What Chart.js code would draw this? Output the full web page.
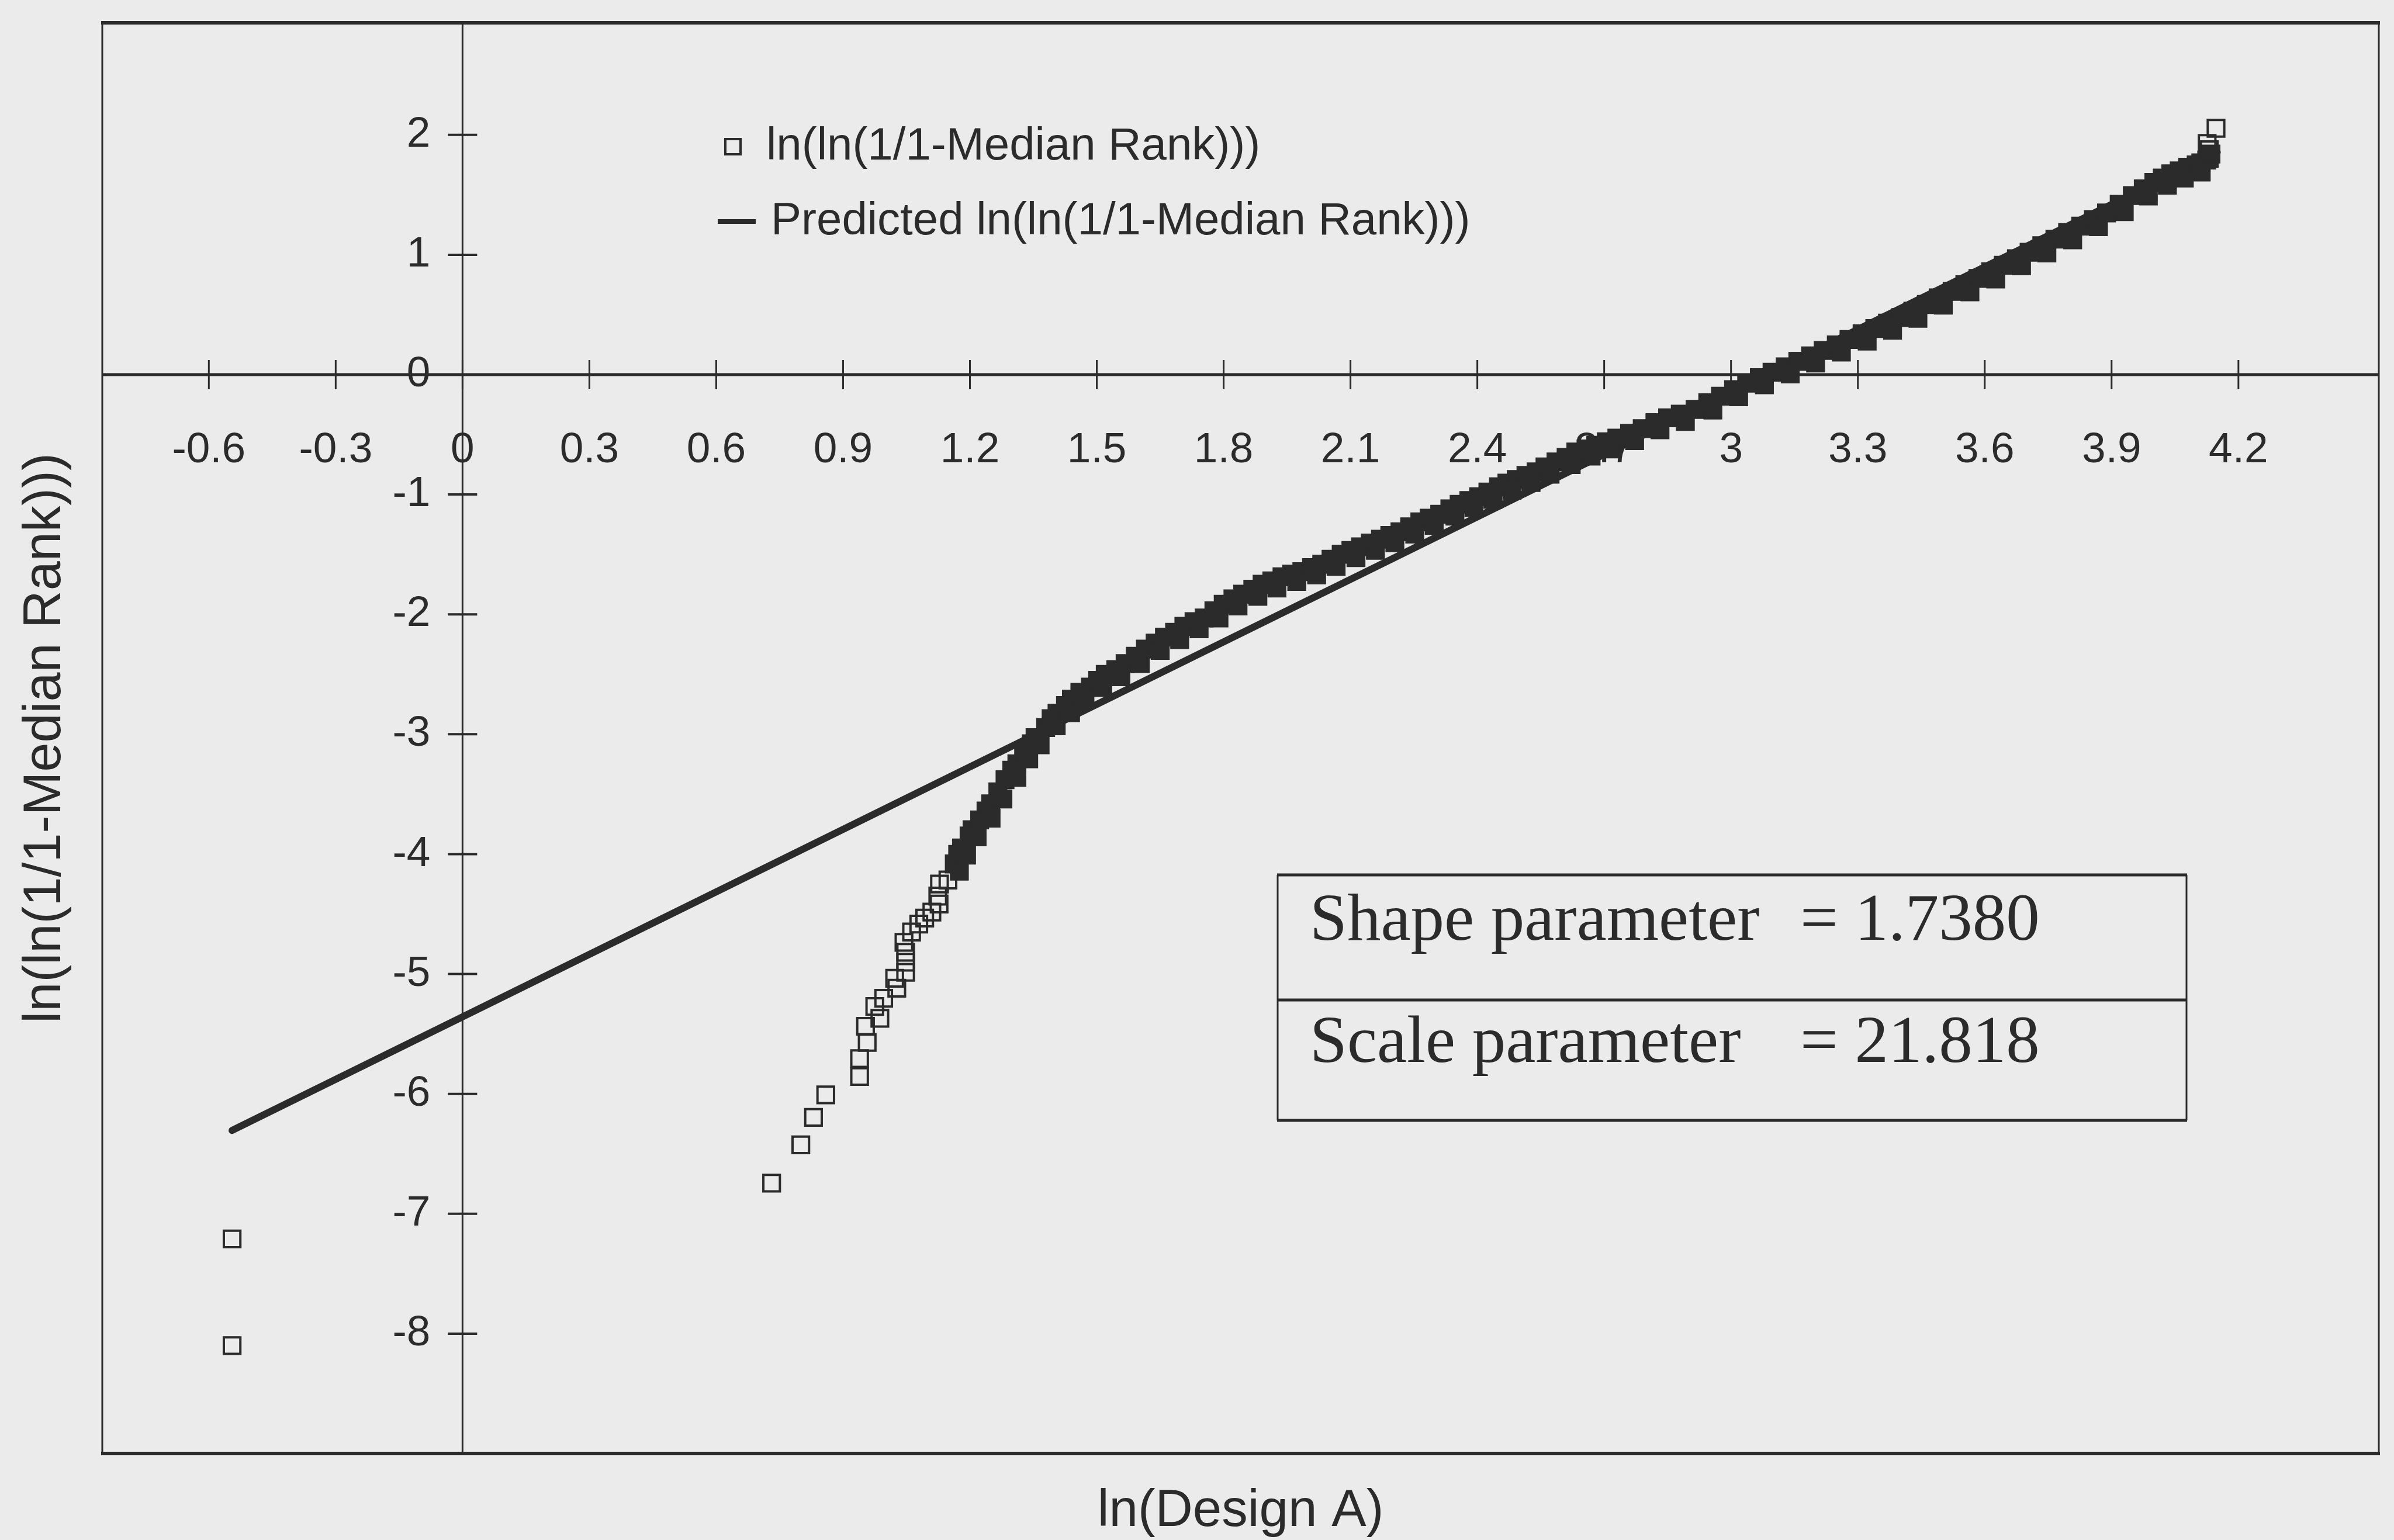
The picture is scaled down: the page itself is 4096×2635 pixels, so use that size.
<!DOCTYPE html>
<html>
<head>
<meta charset="utf-8">
<title>Weibull plot - Design A</title>
<script src="https://cdn.jsdelivr.net/npm/chart.js@4.4.1/dist/chart.umd.min.js"></script>
<style>
  html, body { margin: 0; padding: 0; background: #ebebeb; }
  canvas { display: block; }
</style>
</head>
<body>
<canvas id="weibull" width="4096" height="2635"></canvas>
<script>
// ---- data -------------------------------------------------------------
// ln(Design A) for each plotted observation
const rankX = [
  // isolated low-end observations
  -0.545, -0.545, 0.731, 0.800, 0.830, 0.859, 0.939, 0.939, 0.957, 0.953,
  0.987, 0.975, 0.996, 1.027, 1.022, 1.048, 1.048, 1.048, 1.044, 1.062,
  1.079, 1.093, 1.110, 1.127, 1.124, 1.128, 1.148,
  // dense band: steep rise
  1.163, 1.171, 1.180, 1.198, 1.205, 1.223, 1.238, 1.249, 1.266, 1.283,
  1.299, 1.311, 1.327, 1.345, 1.354, 1.379, 1.392, 1.406, 1.426, 1.440,
  1.460,
  // dense band: knee
  1.485, 1.502, 1.520, 1.545, 1.567, 1.591, 1.615, 1.638, 1.660, 1.684,
  1.706, 1.730, 1.754, 1.777, 1.799, 1.822, 1.845, 1.869, 1.891, 1.914,
  1.938, 1.961, 1.985, 2.008, 2.032, 2.054, 2.078, 2.101, 2.124, 2.147,
  2.171, 2.193, 2.217, 2.240, 2.264, 2.286, 2.311, 2.335, 2.357, 2.380,
  2.403, 2.425, 2.450,
  // dense band: middle
  2.470, 2.492, 2.515, 2.539, 2.560, 2.586, 2.610, 2.633, 2.657, 2.680,
  2.705, 2.730, 2.760, 2.790, 2.820, 2.850, 2.880, 2.915, 2.945, 2.975,
  3.006, 3.037, 3.067, 3.097, 3.128, 3.158, 3.188, 3.218, 3.249, 3.279,
  3.310, 3.340, 3.370, 3.401,
  // dense band: upper end
  3.430, 3.462, 3.490, 3.523, 3.553, 3.584, 3.614, 3.644, 3.675, 3.705,
  3.735, 3.766, 3.796, 3.827, 3.857, 3.888, 3.918, 3.949, 3.975, 4.000,
  4.020, 4.040, 4.060, 4.080, 4.100, 4.111, 4.125, 4.131, 4.135,
  // dense band: lower edge
  1.175, 1.192, 1.217, 1.250, 1.278, 1.311, 1.339, 1.366, 1.404, 1.438,
  1.472, 1.514, 1.557, 1.603, 1.650, 1.696, 1.742, 1.789, 1.834, 1.881,
  1.926, 1.973, 2.020, 2.066, 2.113, 2.159, 2.205, 2.252, 2.298, 2.347,
  2.392, 2.437, 2.482, 2.527, 2.572, 2.622, 2.669, 2.717, 2.772, 2.832,
  2.892, 2.957, 3.018, 3.079, 3.140, 3.200, 3.261, 3.322, 3.382, 3.442,
  3.502, 3.565, 3.626, 3.687, 3.747, 3.808, 3.869, 3.930, 3.987, 4.032,
  4.072, 4.112,
  // isolated top observations
  4.131, 4.126, 4.147
];
// ln(ln(1/(1 - median rank))) for the same observations
const rankY = [
  -8.10, -7.21, -6.745, -6.425, -6.196, -6.008, -5.855, -5.706, -5.571, -5.437,
  -5.370, -5.271, -5.203, -5.119, -5.036, -4.986, -4.902, -4.819, -4.736, -4.650,
  -4.584, -4.534, -4.484, -4.416, -4.350, -4.250, -4.216,
  -4.082, -4.002, -3.948, -3.848, -3.796, -3.714, -3.640, -3.580, -3.480, -3.379,
  -3.300, -3.246, -3.145, -3.080, -3.028, -2.944, -2.870, -2.825, -2.760, -2.708,
  -2.650,
  -2.606, -2.550, -2.500, -2.460, -2.410, -2.350, -2.290, -2.240, -2.190, -2.150,
  -2.100, -2.060, -2.030, -1.970, -1.915, -1.870, -1.832, -1.790, -1.749, -1.720,
  -1.686, -1.665, -1.644, -1.610, -1.582, -1.540, -1.498, -1.467, -1.436, -1.405,
  -1.373, -1.342, -1.311, -1.270, -1.228, -1.197, -1.165, -1.120, -1.082, -1.050,
  -1.019, -0.980, -0.936,
  -0.905, -0.874, -0.840, -0.811, -0.770, -0.728, -0.690, -0.645, -0.620, -0.590,
  -0.560, -0.530, -0.490, -0.450, -0.400, -0.360, -0.330, -0.290, -0.235, -0.180,
  -0.125, -0.071, -0.025, 0.020, 0.065, 0.111, 0.157, 0.202, 0.248, 0.293,
  0.340, 0.385, 0.430, 0.476,
  0.530, 0.585, 0.640, 0.694, 0.750, 0.803, 0.858, 0.912, 0.967, 1.021,
  1.075, 1.130, 1.185, 1.239, 1.294, 1.349, 1.420, 1.494, 1.550, 1.603,
  1.640, 1.675, 1.700, 1.730, 1.750, 1.767, 1.790, 1.804, 1.840,
  -4.142, -4.008, -3.856, -3.700, -3.540, -3.360, -3.205, -3.088, -2.930, -2.820,
  -2.710, -2.610, -2.520, -2.410, -2.300, -2.210, -2.120, -2.030, -1.930, -1.850,
  -1.780, -1.725, -1.670, -1.600, -1.527, -1.465, -1.402, -1.330, -1.257, -1.180,
  -1.110, -1.040, -0.965, -0.900, -0.830, -0.750, -0.680, -0.620, -0.550, -0.460,
  -0.390, -0.295, -0.185, -0.085, 0.005, 0.097, 0.188, 0.280, 0.370, 0.470,
  0.580, 0.690, 0.798, 0.907, 1.015, 1.125, 1.234, 1.360, 1.490, 1.580,
  1.640, 1.690,
  1.876, 1.929, 2.055
];
// observations at either end that stand apart from the dense band
const isolatedLow = 27;
const isolatedHigh = 3;

// fitted Weibull line (shape 1.7380, scale 21.818) over the data range
const fitX = [-0.545, 4.15];
const fitY = [-6.305, 1.855];

const shapeParam = '1.7380';
const scaleParam = '21.818';

const xTicks = [-0.6, -0.3, 0, 0.3, 0.6, 0.9, 1.2, 1.5, 1.8, 2.1, 2.4, 2.7, 3, 3.3, 3.6, 3.9, 4.2];
const xTickLabels = ['-0.6', '-0.3', '0', '0.3', '0.6', '0.9', '1.2', '1.5', '1.8', '2.1', '2.4', '2.7', '3', '3.3', '3.6', '3.9', '4.2'];
const yTicks = [2, 1, 0, -1, -2, -3, -4, -5, -6, -7, -8];
const yTickLabels = ['2', '1', '0', '-1', '-2', '-3', '-4', '-5', '-6', '-7', '-8'];

const seriesLabels = ['ln(ln(1/1-Median Rank)))', 'Predicted ln(ln(1/1-Median Rank)))'];
const xTitle = 'ln(Design A)';
const yTitle = 'ln(ln(1/1-Median Rank)))';

// ---- styling ----------------------------------------------------------
const INK = '#2b2b2b';
const BG = '#ebebeb';
const SANS = '"Liberation Sans", Arial, Helvetica, sans-serif';
const SERIF = '"Liberation Serif", "Times New Roman", Times, serif';

function seg(ctx, x1, y1, x2, y2, w) {
  ctx.lineWidth = w;
  ctx.beginPath();
  ctx.moveTo(x1, y1);
  ctx.lineTo(x2, y2);
  ctx.stroke();
}

// frame, axes crossing at the origin, cross tick marks and tick labels
const axesThroughOrigin = {
  id: 'axesThroughOrigin',
  beforeDatasetsDraw(chart) {
    const { ctx, chartArea: a, scales: { x, y } } = chart;
    const x0 = x.getPixelForValue(0);
    const y0 = y.getPixelForValue(0);
    ctx.save();
    ctx.strokeStyle = INK;
    ctx.lineCap = 'butt';

    seg(ctx, a.left - 2, a.top, a.right + 2, a.top, 6);
    seg(ctx, a.left - 2, a.bottom, a.right + 2, a.bottom, 6);
    seg(ctx, a.left, a.top, a.left, a.bottom, 3);
    seg(ctx, a.right, a.top, a.right, a.bottom, 3);

    seg(ctx, a.left, y0, a.right, y0, 5);
    seg(ctx, x0, a.top, x0, a.bottom, 3);

    xTicks.forEach(v => {
      const px = x.getPixelForValue(v);
      seg(ctx, px, y0 - 25, px, y0 + 25, 3);
    });
    yTicks.forEach(v => {
      const py = y.getPixelForValue(v);
      seg(ctx, x0 - 25, py, x0 + 25, py, 4);
    });

    ctx.fillStyle = INK;
    ctx.font = '73px ' + SANS;
    ctx.textBaseline = 'middle';
    ctx.textAlign = 'center';
    xTicks.forEach((v, i) => ctx.fillText(xTickLabels[i], x.getPixelForValue(v), y0 + 130));
    ctx.textAlign = 'right';
    yTicks.forEach((v, i) => ctx.fillText(yTickLabels[i], x0 - 55, y.getPixelForValue(v)));
    ctx.restore();
  }
};

// axis titles, legend and the parameter table
const annotations = {
  id: 'annotations',
  afterDatasetsDraw(chart) {
    const { ctx, chartArea: a } = chart;
    const ds = chart.data.datasets;
    ctx.save();
    ctx.fillStyle = INK;
    ctx.strokeStyle = INK;

    // axis titles
    ctx.font = '89px ' + SANS;
    ctx.textAlign = 'center';
    ctx.textBaseline = 'middle';
    ctx.fillText(xTitle, (a.left + a.right) / 2, 2586);
    ctx.save();
    ctx.translate(78, (a.top + a.bottom) / 2);
    ctx.rotate(-Math.PI / 2);
    ctx.font = '90px ' + SANS;
    ctx.fillText(yTitle, 0, 0);
    ctx.restore();

    // legend
    ctx.font = '78px ' + SANS;
    ctx.textAlign = 'left';
    ctx.textBaseline = 'middle';
    ctx.lineWidth = 4;
    ctx.strokeRect(1254 - 13, 251 - 13, 26, 26);
    ctx.fillText(ds[0].label, 1311, 251);
    seg(ctx, 1228, 379, 1293, 379, 8);
    ctx.fillText(ds[1].label, 1319, 379);

    // parameter table
    const L = 2186, R = 3741, T = 1497, M = 1711, B = 1917;
    ctx.fillStyle = BG;
    ctx.fillRect(L, T, R - L, B - T);
    ctx.fillStyle = INK;
    seg(ctx, L - 1, T, R + 1, T, 5);
    seg(ctx, L - 1, M, R + 1, M, 5);
    seg(ctx, L - 1, B, R + 1, B, 5);
    seg(ctx, L, T, L, B, 3);
    seg(ctx, R, T, R, B, 3);
    ctx.font = '115px ' + SERIF;
    ctx.textBaseline = 'alphabetic';
    ctx.fillText('Shape parameter', 2241, 1608);
    ctx.fillText('= ' + shapeParam, 3080, 1608);
    ctx.fillText('Scale parameter', 2241, 1817);
    ctx.fillText('= ' + scaleParam, 3080, 1817);
    ctx.restore();
  }
};

const inBand = i => i >= isolatedLow && i < rankX.length - isolatedHigh;

new Chart(document.getElementById('weibull'), {
  type: 'scatter',
  data: {
    datasets: [
      {
        label: seriesLabels[0],
        data: rankX.map((v, i) => ({ x: v, y: rankY[i] })),
        pointStyle: 'rect',
        pointRadius: 20,
        borderWidth: 4,
        pointBorderWidth: 4,
        borderColor: INK,
        pointBorderColor: INK,
        pointBackgroundColor: c => (inBand(c.dataIndex) ? INK : 'rgba(0,0,0,0)'),
        showLine: false,
        order: 0
      },
      {
        label: seriesLabels[1],
        data: fitX.map((v, i) => ({ x: v, y: fitY[i] })),
        showLine: true,
        borderColor: INK,
        borderWidth: 12,
        borderCapStyle: 'round',
        pointRadius: 0,
        fill: false,
        order: 1
      }
    ]
  },
  options: {
    responsive: false,
    animation: false,
    devicePixelRatio: 1,
    events: [],
    layout: { padding: { left: 175, right: 26, top: 39, bottom: 148 } },
    scales: {
      x: { type: 'linear', min: -0.852, max: 4.532, display: false },
      y: { type: 'linear', min: -9.0, max: 2.935, display: false }
    },
    plugins: {
      legend: { display: false },
      tooltip: { enabled: false }
    }
  },
  plugins: [axesThroughOrigin, annotations]
});
</script>
</body>
</html>
